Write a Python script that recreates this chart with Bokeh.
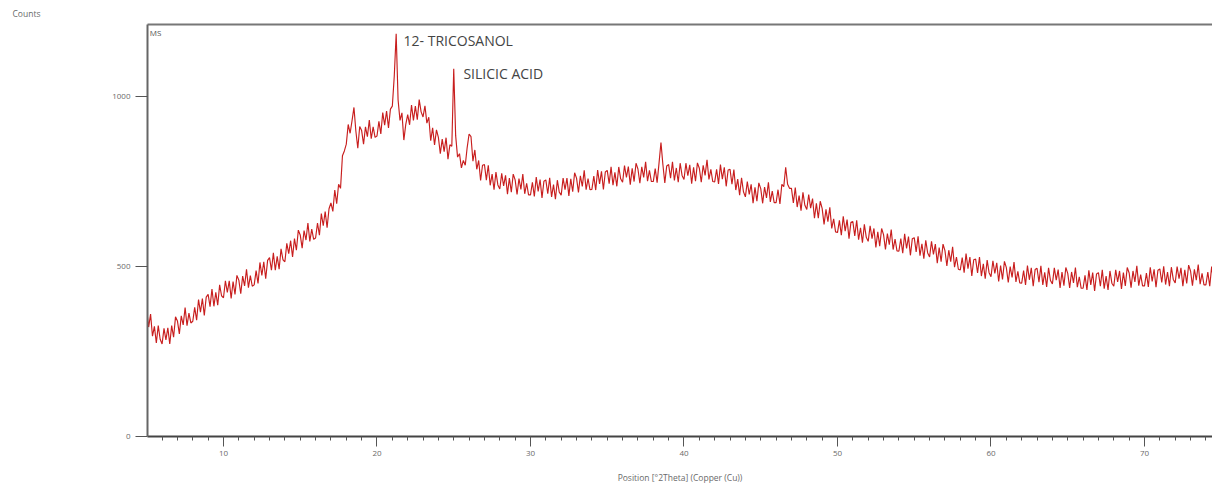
from bokeh.plotting import figure
from bokeh.models import Range1d, SingleIntervalTicker, LinearAxis, Label, Title, ColumnDataSource
from bokeh.embed import file_html
from bokeh.resources import INLINE

# ---- data (2theta step 0.125 deg, starting at 5.0) ----
counts = [
    372, 322, 360, 295, 324, 275, 326, 286,   # 5
    272, 318, 284, 320, 272, 326, 292, 352,   # 6
    340, 302, 355, 328, 379, 326, 363, 334,   # 7
    339, 380, 342, 403, 366, 406, 356, 410,   # 8
    418, 382, 434, 383, 424, 386, 446, 414,   # 9
    408, 458, 424, 458, 406, 456, 418, 474,   # 10
    460, 420, 472, 443, 492, 438, 473, 442,   # 11
    446, 488, 450, 512, 474, 514, 464, 518,   # 12
    526, 489, 540, 489, 530, 492, 552, 520,   # 13
    514, 568, 538, 576, 528, 582, 548, 607,   # 14
    593, 554, 606, 578, 628, 574, 610, 580,   # 15
    584, 628, 592, 656, 620, 662, 614, 670,   # 16
    687, 662, 725, 685, 742, 730, 826, 840,   # 17
    860, 918, 892, 929, 968, 898, 848, 912,   # 18
    900, 860, 911, 882, 931, 876, 911, 880,   # 19
    884, 927, 890, 953, 916, 957, 908, 963,   # 20
    972, 1060, 1185, 990, 930, 952, 872, 918,  # 21
    947, 917, 975, 930, 972, 932, 991, 955,   # 22
    940, 973, 922, 939, 870, 908, 858, 902,   # 23
    880, 832, 875, 838, 879, 816, 858, 854,   # 24
    1082, 885, 822, 832, 790, 812, 798, 850,  # 25
    890, 882, 810, 843, 786, 812, 753, 798,   # 26
    800, 754, 798, 739, 772, 726, 778, 740,   # 27
    728, 774, 737, 768, 713, 760, 719, 772,   # 28
    755, 712, 759, 727, 772, 714, 745, 711,   # 29
    711, 748, 706, 763, 721, 756, 702, 751,   # 30
    755, 714, 761, 705, 741, 698, 754, 719,   # 31
    710, 760, 726, 760, 708, 758, 720, 776,   # 32
    760, 718, 767, 736, 783, 726, 759, 726,   # 33
    727, 766, 725, 784, 743, 780, 727, 778,   # 34
    783, 744, 793, 739, 777, 736, 793, 758,   # 35
    748, 797, 762, 794, 741, 789, 750, 804,   # 36
    787, 745, 793, 762, 808, 751, 783, 750,   # 37
    750, 788, 747, 805, 865, 800, 746, 796,   # 38
    800, 760, 808, 753, 790, 748, 804, 768,   # 39
    756, 804, 767, 799, 744, 792, 751, 805,   # 40
    789, 748, 798, 768, 814, 756, 786, 750,   # 41
    749, 786, 743, 800, 757, 792, 736, 784,   # 42
    786, 742, 785, 725, 757, 710, 761, 720,   # 43
    705, 750, 712, 742, 686, 733, 692, 746,   # 44
    729, 686, 734, 702, 748, 690, 722, 688,   # 45
    688, 726, 684, 742, 735, 792, 742, 730,   # 46
    730, 687, 732, 675, 709, 664, 718, 680,   # 47
    668, 712, 672, 700, 642, 686, 642, 692,   # 48
    671, 624, 668, 632, 674, 612, 640, 602,   # 49
    600, 636, 592, 648, 604, 638, 582, 630,   # 50
    632, 590, 636, 579, 614, 570, 624, 586,   # 51
    574, 620, 582, 612, 556, 602, 560, 612,   # 52
    594, 550, 597, 564, 609, 550, 581, 546,   # 53
    545, 582, 539, 596, 553, 588, 533, 582,   # 54
    585, 543, 589, 532, 567, 523, 577, 540,   # 55
    528, 574, 536, 566, 510, 556, 514, 566,   # 56
    547, 502, 548, 514, 558, 498, 528, 492,   # 57
    490, 526, 482, 538, 494, 528, 472, 520,   # 58
    522, 481, 528, 472, 508, 464, 519, 482,   # 59
    470, 517, 480, 511, 456, 503, 462, 515,   # 60
    497, 453, 500, 468, 513, 455, 486, 452,   # 61
    451, 488, 446, 503, 461, 496, 442, 491,   # 62
    495, 454, 502, 446, 483, 440, 496, 459,   # 63
    449, 496, 460, 491, 437, 484, 444, 497,   # 64
    480, 437, 484, 452, 497, 439, 470, 436,   # 65
    436, 474, 431, 489, 446, 482, 428, 478,   # 66
    482, 442, 490, 435, 472, 431, 487, 451,   # 67
    442, 490, 455, 487, 434, 482, 443, 497,   # 68
    481, 438, 487, 455, 502, 444, 476, 443,   # 69
    443, 481, 440, 498, 456, 492, 439, 489,   # 70
    493, 453, 501, 447, 484, 442, 498, 462,   # 71
    452, 500, 464, 496, 442, 490, 450, 504,   # 72
    487, 444, 492, 460, 506, 448, 480, 446,   # 73
    446, 484, 442, 500, 458,                  # 74
]
two_theta_start = 5.0
two_theta_step = 0.125
two_theta = [two_theta_start + two_theta_step * i for i in range(len(counts))]

peak_labels = ["12- TRICOSANOL", "SILICIC ACID"]
peak_label_x = [21.73, 25.63]
peak_label_y = [1165, 1068]

FONT = "Open Sans"
GRAY = "#6a6a6a"

p = figure(width=1212, height=489, output_backend="svg", toolbar_location=None,
           x_range=Range1d(5.05, 74.43), y_range=Range1d(0, 1212),
           min_border_left=147, min_border_right=0, min_border_top=24,
           min_border_bottom=53, x_axis_location=None, y_axis_location=None)
p.frame_width = 1065
p.frame_height = 412
p.outline_line_color = None
p.xgrid.visible = False
p.ygrid.visible = False
p.background_fill_color = "white"
p.border_fill_color = "white"

src = ColumnDataSource(dict(x=two_theta, y=counts))
p.line("x", "y", source=src, line_color="#c81e1e", line_width=1.15)

xaxis = LinearAxis(ticker=SingleIntervalTicker(interval=10, num_minor_ticks=10))
xaxis.axis_line_color = "#444444"
xaxis.axis_line_width = 2
xaxis.major_tick_line_color = "#555555"
xaxis.major_tick_out = 10
xaxis.major_tick_in = 0
xaxis.minor_tick_line_color = "#555555"
xaxis.minor_tick_out = 4
xaxis.minor_tick_in = 0
xaxis.major_label_text_font = FONT
xaxis.major_label_text_font_size = "8px"
xaxis.major_label_text_color = GRAY
xaxis.major_label_standoff = 4
p.add_layout(xaxis, "below")

yaxis = LinearAxis(ticker=SingleIntervalTicker(interval=500, num_minor_ticks=0))
yaxis.axis_line_color = "#666666"
yaxis.axis_line_width = 2
yaxis.major_tick_line_color = "#555555"
yaxis.major_tick_out = 12
yaxis.major_tick_in = 0
yaxis.minor_tick_line_color = None
yaxis.major_label_text_font = FONT
yaxis.major_label_text_font_size = "8px"
yaxis.major_label_text_color = GRAY
yaxis.major_label_standoff = 5
p.add_layout(yaxis, "left")

top = LinearAxis(ticker=SingleIntervalTicker(interval=10, num_minor_ticks=0))
top.axis_line_color = "#777777"
top.axis_line_width = 2
top.major_tick_line_color = None
top.minor_tick_line_color = None
top.major_label_text_font_size = "0px"
top.major_label_text_color = None
p.add_layout(top, "above")

p.add_layout(Title(text="Counts", align="left", offset=-135, text_font=FONT,
                   text_font_size="8.5px", text_color=GRAY, text_font_style="normal",
                   standoff=0), "above")
p.add_layout(Title(text="Position [°2Theta] (Copper (Cu))", align="center", offset=34,
                   text_font=FONT, text_font_size="8.5px", text_color=GRAY,
                   text_font_style="normal", standoff=22), "below")

for t, x, y in zip(peak_labels, peak_label_x, peak_label_y):
    p.add_layout(Label(x=x, y=y, text=t, text_font=FONT, text_font_size="14px",
                       text_color="#444444", text_baseline="middle", text_align="left"))

p.add_layout(Label(x=5.2, y=1188, text="MS", text_font=FONT, text_font_size="8px",
                   text_color="#555555", text_baseline="middle"))

open("out.html", "w").write(file_html(p, INLINE))
